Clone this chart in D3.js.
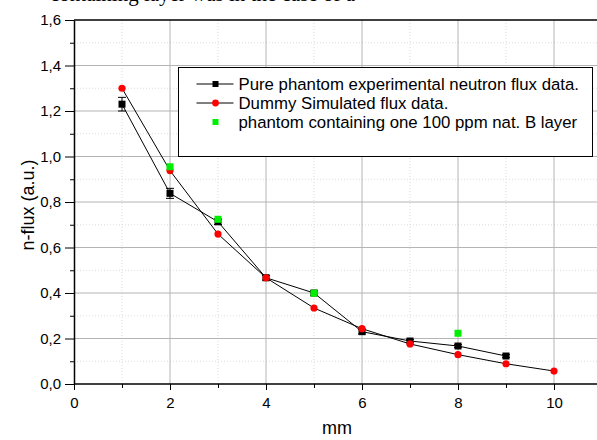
<!DOCTYPE html>
<html>
<head>
<meta charset="UTF-8">
<style>
  body { margin:0; background:#fff; }
  svg { font-family: "Liberation Sans", Arial, sans-serif; display:block; }
  .grid-major line { stroke:#b4b4b4; stroke-width:1; }
  .grid-minor line { stroke:#dcdcdc; stroke-width:1; stroke-dasharray:1,2; }
  .axis path, .axis line { stroke:#000; }
  .axis text { font-size:15px; fill:#000; font-family:"Liberation Sans", Arial, sans-serif; }
</style>
</head>
<body>
<svg width="597" height="440"></svg>
<script src="https://cdn.jsdelivr.net/npm/d3@7/dist/d3.min.js"></script>
<script>
// data
var pureX   = [1, 2, 3, 4, 5, 6, 7, 8, 9];
var pureY   = [1.23, 0.838, 0.713, 0.467, 0.400, 0.230, 0.189, 0.167, 0.123];
var pureErr = [0.03, 0.022, 0.012, 0.01, 0.01, 0.01, 0.006, 0.006, 0.006];
var simX    = [1, 2, 3, 4, 5, 6, 7, 8, 9, 10];
var simY    = [1.30, 0.938, 0.659, 0.467, 0.334, 0.243, 0.176, 0.129, 0.089, 0.057];
var boronX  = [2, 3, 5, 8];
var boronY  = [0.955, 0.724, 0.399, 0.223];
var legendLabels = ["Pure phantom experimental neutron flux data.",
                    "Dummy Simulated flux data.",
                    "phantom containing one 100 ppm nat. B layer"];

var svg = d3.select("svg");

var x = d3.scaleLinear().domain([0, 11]).range([74, 602]);
var y = d3.scaleLinear().domain([0, 1.6]).range([384, 20]);
var comma = function(d){ return d3.format(".1f")(d).replace(".", ","); };

// clipped caption text from the page above
svg.append("text")
  .attr("x", 50).attr("y", 0.5)
  .style("font-family", "'Liberation Serif', serif")
  .style("font-size", "21px")
  .text("containing layer was in the case of a");

// grid
var minorX = d3.range(1, 11, 2), majorX = d3.range(2, 11, 2);
var minorY = d3.range(0.1, 1.6, 0.2), majorY = d3.range(0.2, 1.6, 0.2);
svg.append("g").attr("class", "grid-minor").selectAll("line").data(minorX).enter().append("line")
  .attr("x1", function(d){ return x(d); }).attr("x2", function(d){ return x(d); })
  .attr("y1", y(0)).attr("y2", y(1.6));
svg.append("g").attr("class", "grid-minor").selectAll("line").data(minorY).enter().append("line")
  .attr("y1", function(d){ return y(d); }).attr("y2", function(d){ return y(d); })
  .attr("x1", x(0)).attr("x2", 597);
svg.append("g").attr("class", "grid-major").selectAll("line").data(majorX).enter().append("line")
  .attr("x1", function(d){ return x(d); }).attr("x2", function(d){ return x(d); })
  .attr("y1", y(0)).attr("y2", y(1.6));
svg.append("g").attr("class", "grid-major").selectAll("line").data(majorY).enter().append("line")
  .attr("y1", function(d){ return y(d); }).attr("y2", function(d){ return y(d); })
  .attr("x1", x(0)).attr("x2", 597);

// top frame line
svg.append("line").attr("x1", x(0)).attr("x2", 597).attr("y1", y(1.6)).attr("y2", y(1.6))
  .attr("stroke", "#000").attr("stroke-width", 1.5);

// axes
var xAxis = svg.append("g").attr("class", "axis")
  .attr("transform", "translate(0," + y(0) + ")")
  .call(d3.axisBottom(x).tickValues(d3.range(0, 11, 2)).tickSize(6).tickSizeOuter(0).tickPadding(7));
svg.append("g").attr("class", "axis")
  .attr("transform", "translate(0," + y(0) + ")")
  .call(d3.axisBottom(x).tickValues(d3.range(1, 11, 2)).tickSize(4).tickSizeOuter(0).tickFormat(""))
  .select("path").remove();
xAxis.select("path").attr("stroke-width", 1.5).attr("d", "M" + x(0) + ",0H597");

var yAxis = svg.append("g").attr("class", "axis")
  .attr("transform", "translate(" + x(0) + ",0)")
  .call(d3.axisLeft(y).tickValues(d3.range(0, 1.61, 0.2)).tickFormat(comma).tickSize(9).tickSizeOuter(0).tickPadding(4));
yAxis.select("path").attr("stroke-width", 1.5);
svg.append("g").attr("class", "axis")
  .attr("transform", "translate(" + x(0) + ",0)")
  .call(d3.axisLeft(y).tickValues(minorY).tickSize(4).tickSizeOuter(0).tickFormat(""))
  .select("path").remove();

// axis titles
svg.append("text").attr("x", 337).attr("y", 434).attr("text-anchor", "middle")
  .style("font-size", "18px").text("mm");
svg.append("text").attr("transform", "translate(34,205) rotate(-90)")
  .attr("text-anchor", "middle").style("font-size", "18px").text("n-flux (a.u.)");

var line = d3.line()
  .x(function(d){ return x(d[0]); })
  .y(function(d){ return y(d[1]); });

var pure = pureX.map(function(d, i){ return [d, pureY[i], pureErr[i]]; });
var sim = simX.map(function(d, i){ return [d, simY[i]]; });
var boron = boronX.map(function(d, i){ return [d, boronY[i]]; });

svg.append("path").datum(pure).attr("d", line)
  .attr("fill", "none").attr("stroke", "#000").attr("stroke-width", 1);
svg.append("path").datum(sim).attr("d", line)
  .attr("fill", "none").attr("stroke", "#000").attr("stroke-width", 1);

// error bars
var eb = svg.append("g").attr("stroke", "#000").attr("stroke-width", 1);
pure.forEach(function(d){
  var cx = x(d[0]), t = y(d[1] + d[2]), b = y(d[1] - d[2]);
  eb.append("line").attr("x1", cx).attr("x2", cx).attr("y1", t).attr("y2", b);
  eb.append("line").attr("x1", cx - 4).attr("x2", cx + 4).attr("y1", t).attr("y2", t);
  eb.append("line").attr("x1", cx - 4).attr("x2", cx + 4).attr("y1", b).attr("y2", b);
});

svg.append("g").selectAll("rect").data(pure).enter().append("rect")
  .attr("x", function(d){ return x(d[0]) - 3.5; })
  .attr("y", function(d){ return y(d[1]) - 3.5; })
  .attr("width", 7).attr("height", 7).attr("fill", "#000");
svg.append("g").selectAll("circle").data(sim).enter().append("circle")
  .attr("cx", function(d){ return x(d[0]); })
  .attr("cy", function(d){ return y(d[1]); })
  .attr("r", 3.6).attr("fill", "#ff0000");
svg.append("g").selectAll("rect").data(boron).enter().append("rect")
  .attr("x", function(d){ return x(d[0]) - 3.5; })
  .attr("y", function(d){ return y(d[1]) - 3.5; })
  .attr("width", 7).attr("height", 7).attr("fill", "#00ee00");

// legend
var lg = svg.append("g").attr("transform", "translate(178.5,67.5)");
lg.append("rect").attr("width", 414).attr("height", 89)
  .attr("fill", "#fff").attr("stroke", "#000").attr("stroke-width", 1);
var rows = lg.selectAll("g.row").data(legendLabels).enter().append("g")
  .attr("class", "row")
  .attr("transform", function(d, i){ return "translate(0," + (16.5 + i * 19) + ")"; });
rows.filter(function(d, i){ return i < 2; }).append("line")
  .attr("x1", 18).attr("x2", 55).attr("stroke", "#000").attr("stroke-width", 1);
rows.filter(function(d, i){ return i === 0; }).append("rect")
  .attr("x", 34).attr("y", -3).attr("width", 6).attr("height", 6).attr("fill", "#000");
rows.filter(function(d, i){ return i === 1; }).append("circle")
  .attr("cx", 37).attr("r", 3.4).attr("fill", "#ff0000");
rows.filter(function(d, i){ return i === 2; }).append("rect")
  .attr("x", 34).attr("y", -3).attr("width", 6).attr("height", 6).attr("fill", "#00ee00");
rows.append("text").attr("x", 60).attr("y", 6).style("font-size", "16.8px").text(function(d){ return d; });
</script>
</body>
</html>
